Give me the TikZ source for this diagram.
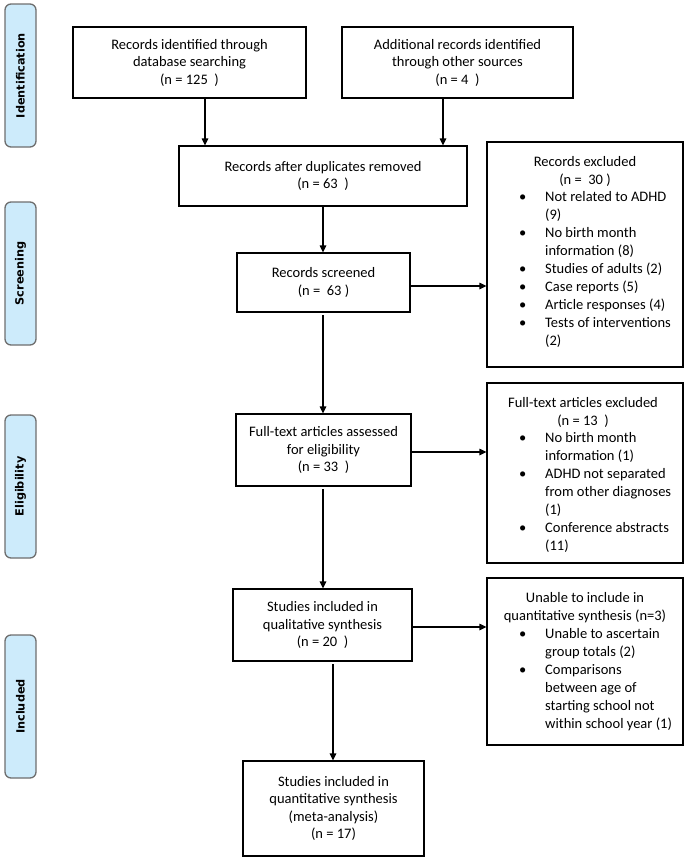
\documentclass[tikz,border=0pt]{standalone}
\usepackage{fontspec}
\setmainfont{Carlito}
\newfontfamily\labfont{DejaVu Sans}
\usetikzlibrary{arrows.meta}
\definecolor{labfill}{HTML}{CDEBFB}
\definecolor{labdraw}{HTML}{6E6E6E}
\begin{document}
\begin{tikzpicture}[x=1pt,y=-1pt,
  box/.style={draw=black, line width=1.2pt, inner sep=0pt, align=center,
    font=\fontsize{14.5}{17.5}\selectfont},
  lab/.style={draw=labdraw, fill=labfill, line width=1.3pt, rounded corners=6pt,
    inner sep=0pt, minimum width=31pt, minimum height=143pt},
  labtxt/.style={font=\labfont\bfseries\fontsize{11.3}{13}\selectfont, rotate=90, inner sep=0pt},
  arr/.style={line width=1.2pt, -{Triangle[length=7pt,width=6.5pt]}},
  gap/.style={shorten <=2.5pt},
  txt/.style={inner sep=0pt, font=\fontsize{14.5}{18.1}\selectfont}]
\useasboundingbox (0,0) rectangle (685,857);

% phase labels
\node[lab] (L1) at (20.5,75.5) {};
\node[labtxt] (L1t) at (L1) {Identification};
\node[lab] (L2) at (20.5,273.5) {};
\node[labtxt] (L2t) at (L2) {Screening};
\node[lab] (L3) at (20.5,486.5) {};
\node[labtxt] (L3t) at (L3) {Eligibility};
\node[lab] (L4) at (20.5,706.5) {};
\node[labtxt] (L4t) at (L4) {Included};

% main boxes
\node[box, minimum width=233pt, minimum height=71pt] (b1) at (189.5,62.5)
  {Records identified through\\database searching\\(n = 125\ \ )};
\node[box, minimum width=231pt, minimum height=71pt] (b2) at (457.5,62.5)
  {Additional records identified\\through other sources\\(n = 4\ \ )};
\node[box, minimum width=288pt, minimum height=60pt] (dup) at (323,176)
  {Records after duplicates removed\\(n = 63\ \ )};
\node[box, minimum width=173pt, minimum height=59pt] (scr) at (323.5,282.5)
  {Records screened\\(n =\ \ 63 )};
\node[box, minimum width=175pt, minimum height=72pt] (ass) at (323.5,450)
  {Full-text articles assessed\\for eligibility\\(n = 33\ \ )};
\node[box, minimum width=179pt, minimum height=72pt] (qual) at (322.5,625)
  {Studies included in\\qualitative synthesis\\(n = 20\ \ )};
\node[box, minimum width=181pt, minimum height=95pt] (meta) at (333.5,808.5)
  {Studies included in\\quantitative synthesis\\(meta-analysis)\\(n = 17)};

% exclusion boxes
\node[box, minimum width=196pt, minimum height=225pt] (ex1) at (585,254.5) {};
\node[box, minimum width=196pt, minimum height=180pt] (ex2) at (585,473) {};
\node[box, minimum width=196pt, minimum height=167pt] (ex3) at (585,661.5) {};

\node[txt, anchor=base] (ex1h) at (585,166)
  {\begin{tabular}[t]{@{}c@{}}Records excluded\\(n =\ \ 30 )\end{tabular}};
\node[txt, anchor=base west] (ex1l) at (519,201)
  {\begin{tabular}[t]{@{}p{26pt}@{}l@{}}
  \textbullet & Not related to ADHD\\
   & (9)\\
  \textbullet & No birth month\\
   & information (8)\\
  \textbullet & Studies of adults (2)\\
  \textbullet & Case reports (5)\\
  \textbullet & Article responses (4)\\
  \textbullet & Tests of interventions\\
   & (2)
  \end{tabular}};

\node[txt, anchor=base] (ex2h) at (583,407)
  {\begin{tabular}[t]{@{}c@{}}Full-text articles excluded\\(n = 13\ \ )\end{tabular}};
\node[txt, anchor=base west] (ex2l) at (519,442.3)
  {\begin{tabular}[t]{@{}p{26pt}@{}l@{}}
  \textbullet & No birth month\\
   & information (1)\\
  \textbullet & ADHD not separated\\
   & from other diagnoses\\
   & (1)\\
  \textbullet & Conference abstracts\\
   & (11)
  \end{tabular}};

\node[txt, anchor=base] (ex3h) at (585,602.3)
  {\begin{tabular}[t]{@{}c@{}}Unable to include in\\quantitative synthesis (n=3)\end{tabular}};
\node[txt, anchor=base west] (ex3l) at (519,638)
  {\begin{tabular}[t]{@{}p{26pt}@{}l@{}}
  \textbullet & Unable to ascertain\\
   & group totals (2)\\
  \textbullet & Comparisons\\
   & between age of\\
   & starting school not\\
   & within school year (1)
  \end{tabular}};

% connector positions
\coordinate (c1) at (205,0);
\coordinate (c2) at (443,0);
\coordinate (c3) at (323,0);
\coordinate (c4) at (333,0);
\coordinate (r1) at (0,286);
\coordinate (r2) at (0,452);
\coordinate (r3) at (0,627);

\draw[arr] (b1.south -| c1) -- (dup.north -| c1);
\draw[arr] (b2.south -| c2) -- (dup.north -| c2);
\draw[arr] (dup.south -| c3) -- (scr.north -| c3);
\draw[arr] (scr.east |- r1) -- (ex1.west |- r1);
\draw[arr, gap] (scr.south -| c3) -- (ass.north -| c3);
\draw[arr] (ass.east |- r2) -- (ex2.west |- r2);
\draw[arr, gap] (ass.south -| c3) -- (qual.north -| c3);
\draw[arr] (qual.east |- r3) -- (ex3.west |- r3);
\draw[arr, gap] (qual.south -| c4) -- (meta.north -| c4);
\end{tikzpicture}
\end{document}
